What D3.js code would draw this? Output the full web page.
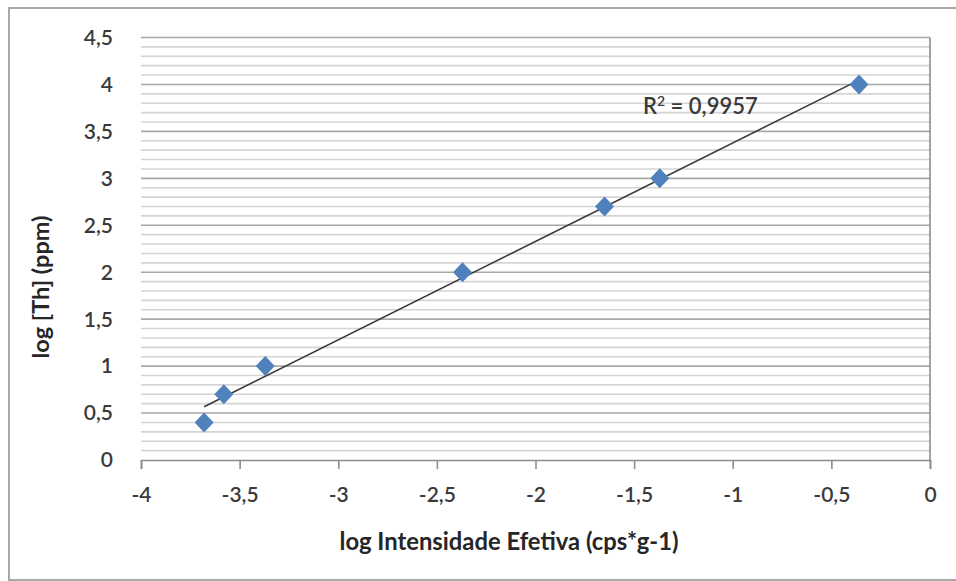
<!DOCTYPE html>
<html lang="pt">
<head>
  <meta charset="UTF-8">
  <title>log [Th] x log Intensidade Efetiva</title>
  <script src="https://d3js.org/d3.v7.min.js"></script>
  <style>
    body { margin: 0; background: #fff; }
    text { font-family: Lato, "Open Sans", sans-serif; }
  </style>
</head>
<body>
  <svg id="chart" width="956" height="581"></svg>

  <script>
    // log intensidade efetiva (cps*g-1) vs log [Th] (ppm)
    const logIntensity = [-3.68, -3.58, -3.37, -2.37, -1.65, -1.37, -0.36]
    const logTh = [0.4, 0.7, 1.0, 2.0, 2.7, 3.0, 4.0]
    const xTicks = [-4, -3.5, -3, -2.5, -2, -1.5, -1, -0.5, 0]
    const yTicks = [0, 0.5, 1, 1.5, 2, 2.5, 3, 3.5, 4, 4.5]
    const rSquared = "0,9957"

    const points = logIntensity.map((x, i) => ({ x: x, y: logTh[i] }))

    const svg = d3.select("#chart")
    const fmt = d => String(d).replace(".", ",")

    // outer chart border
    svg.append("rect")
      .attr("x", 9).attr("y", 8)
      .attr("width", 960).attr("height", 572)
      .attr("fill", "none")
      .attr("stroke", "#a8a8a8")
      .attr("stroke-width", 2)

    const x = d3.scaleLinear().domain([-4, 0]).range([141, 930])
    const y = d3.scaleLinear().domain([0, 4.5]).range([460, 37.5])

    // minor gridlines every 0.1
    const minor = d3.range(1, 46).map(i => i / 10).filter(v => Math.round(v * 10) % 5 !== 0)
    svg.append("g").selectAll("line")
      .data(minor)
      .join("line")
      .attr("x1", x(-4)).attr("x2", x(0))
      .attr("y1", d => y(d)).attr("y2", d => y(d))
      .attr("stroke", "#d4d4d4")
      .attr("stroke-width", 1.6)

    // major gridlines
    svg.append("g").selectAll("line")
      .data(yTicks.slice(1))
      .join("line")
      .attr("x1", x(-4)).attr("x2", x(0))
      .attr("y1", d => y(d)).attr("y2", d => y(d))
      .attr("stroke", "#a8a8a8")
      .attr("stroke-width", 1.6)

    // x axis
    const xAxis = svg.append("g")
      .attr("transform", "translate(0," + y(0) + ")")
      .call(d3.axisBottom(x).tickValues(xTicks).tickFormat(fmt).tickSize(9).tickPadding(18))
    xAxis.select(".domain").attr("stroke", "#8c8c8c").attr("stroke-width", 1.6)
    xAxis.selectAll(".tick line").attr("stroke", "#8c8c8c").attr("stroke-width", 1.6)
    xAxis.selectAll("text")
      .attr("fill", "#3a3a3a")
      .style("font-size", "21px")
      .style("font-weight", "600")

    // y axis line sits at x = 0 (right edge), labels on the left
    svg.append("line")
      .attr("x1", x(0)).attr("x2", x(0))
      .attr("y1", y(4.5)).attr("y2", y(0))
      .attr("stroke", "#8c8c8c")
      .attr("stroke-width", 1.6)

    svg.append("g").selectAll("text")
      .data(yTicks)
      .join("text")
      .attr("x", 113)
      .attr("y", d => y(d))
      .attr("dy", "0.35em")
      .attr("text-anchor", "end")
      .attr("fill", "#3a3a3a")
      .style("font-size", "21px")
      .style("font-weight", "600")
      .text(fmt)

    // linear trendline (least squares over the points)
    const mx = d3.mean(points, d => d.x)
    const my = d3.mean(points, d => d.y)
    const slope = d3.sum(points, d => (d.x - mx) * (d.y - my)) / d3.sum(points, d => (d.x - mx) ** 2)
    const intercept = my - slope * mx
    const [x0, x1] = d3.extent(points, d => d.x)

    svg.append("line")
      .attr("x1", x(x0)).attr("y1", y(intercept + slope * x0))
      .attr("x2", x(x1)).attr("y2", y(intercept + slope * x1))
      .attr("stroke", "#3a3a3a")
      .attr("stroke-width", 1.6)

    // diamond markers
    svg.append("g").selectAll("path")
      .data(points)
      .join("path")
      .attr("transform", d => "translate(" + x(d.x) + "," + y(d.y) + ")")
      .attr("d", "M0,-10L9.5,0L0,10L-9.5,0Z")
      .attr("fill", "#4f81bd")

    // R² label
    const r2 = svg.append("text")
      .attr("x", 643)
      .attr("y", 114)
      .attr("fill", "#3a3a3a")
      .style("font-size", "22px")
      .style("font-weight", "600")
    r2.append("tspan").text("R")
    r2.append("tspan").attr("dy", -8).style("font-size", "14px").text("2")
    r2.append("tspan").attr("dy", 8).text(" = " + rSquared)

    // axis titles
    svg.append("text")
      .attr("x", 509)
      .attr("y", 550)
      .attr("text-anchor", "middle")
      .attr("fill", "#262626")
      .style("font-size", "23.8px")
      .style("font-weight", "700")
      .text("log Intensidade Efetiva (cps*g-1)")

    svg.append("text")
      .attr("transform", "translate(49," + 287 + ") rotate(-90)")
      .attr("text-anchor", "middle")
      .attr("fill", "#262626")
      .style("font-size", "23.5px")
      .style("font-weight", "700")
      .text("log [Th] (ppm)")
  </script>
</body>
</html>
